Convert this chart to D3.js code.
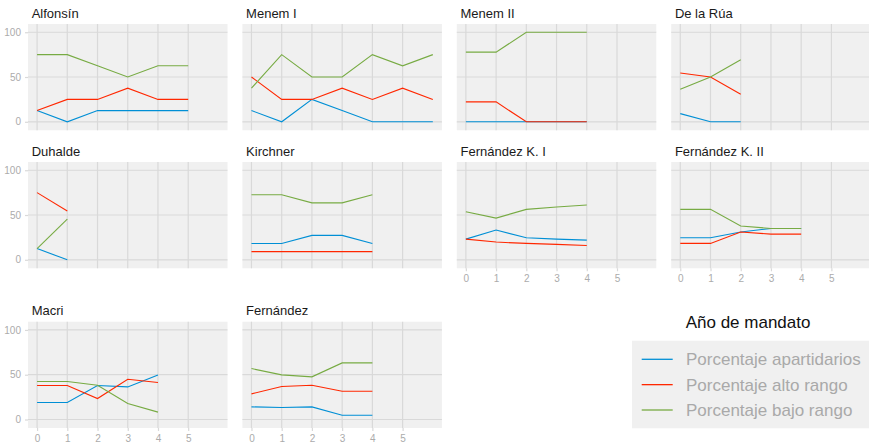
<!DOCTYPE html>
<html><head><meta charset="utf-8">
<script src="https://cdn.jsdelivr.net/npm/d3@7"></script>
<style>
html,body{margin:0;padding:0;background:#fff;}
svg{display:block;font-family:"Liberation Sans",Arial,Helvetica,sans-serif;}
</style></head>
<body>
<svg id="chart" width="869" height="444"></svg>
<script>
const presidents = ["Alfonsín","Menem I","Menem II","De la Rúa","Duhalde","Kirchner","Fernández K. I","Fernández K. II","Macri","Fernández"];
const seriesNames = ["Porcentaje apartidarios","Porcentaje alto rango","Porcentaje bajo rango"];
const seriesColors = ["#008fd5","#ff2700","#77ab43"];
const apartidarios = [
  [12.5,0,12.5,12.5,12.5,12.5],
  [12.5,0,25,12.5,0,0,0],
  [0,0,0,0,0],
  [9.1,0,0],
  [12.5,0],
  [18.2,18.2,27.3,27.3,18.2],
  [23.1,33.2,24.6,23.1,22],
  [24.6,24.6,31,35,35],
  [19,19,37.9,36.4,49.8],
  [14.1,13.4,14.1,4.8,4.8]
];
const altoRango = [
  [12.5,25,25,37.5,25,25],
  [50,25,25,37.5,25,37.5,25],
  [22.2,22.2,0,0,0],
  [54.5,50,30.8],
  [75,54.5],
  [9.1,9.1,9.1,9.1,9.1],
  [23.1,19.8,18.3,17.2,16],
  [18.3,18.3,31,28.7,28.7],
  [37.9,37.9,23.4,45,41.3],
  [28.6,36.8,38.3,31.6,31.6]
];
const bajoRango = [
  [75,75,62.5,50,62.5,62.5],
  [37.5,75,50,50,75,62.5,75],
  [77.8,77.8,100,100,100],
  [36.4,50,69.2],
  [12.5,45.5],
  [72.7,72.7,63.6,63.6,72.7],
  [53.7,46.6,56.3,59,61.2],
  [56.3,56.3,37.7,35,35],
  [42.4,42.4,38.3,17.8,8.2],
  [56.9,49.8,47.6,63.2,63.2]
];
const xTicks = [0,1,2,3,4,5];
const yTicks = [0,50,100];
const legendTitle = "Año de mandato";

const series = [apartidarios, altoRango, bajoRango];

const svg = d3.select("#chart");
const colLeft = [28, 242.4, 456.8, 671.2];
const rowTop = [24, 162, 321.7];
const pw = 199.5, ph = 106.3;
const gridColor = "#d9d9d9", panelBg = "#f0f0f0", tickText = "#ababab";

const x = d3.scaleLinear().domain([-0.3, 6.3]).range([0, pw]);
const y = d3.scaleLinear().domain([-9.5, 109.2]).range([ph, 0]);

const line = d3.line().x((d,i)=>x(i)).y(d=>y(d));

presidents.forEach((name, k) => {
  const r = Math.floor(k/4), c = k%4;
  const g = svg.append("g").attr("transform", `translate(${colLeft[c]},${rowTop[r]})`);
  g.append("rect").attr("width", pw).attr("height", ph).attr("fill", panelBg);
  // grid
  g.selectAll(".hg").data(yTicks).join("line")
    .attr("x1",0).attr("x2",pw).attr("y1",d=>y(d)).attr("y2",d=>y(d))
    .attr("stroke",gridColor).attr("stroke-width",1.2);
  g.selectAll(".vg").data(xTicks).join("line")
    .attr("y1",0).attr("y2",ph).attr("x1",d=>x(d)).attr("x2",d=>x(d))
    .attr("stroke",gridColor).attr("stroke-width",1.2);
  // title
  g.append("text").attr("x",3.7).attr("y",-6.3).attr("font-size",13).attr("fill","#1a1a1a").text(name);
  // series
  series.forEach((s, j) => {
    g.append("path").datum(s[k]).attr("d", line).attr("fill","none")
      .attr("stroke", seriesColors[j]).attr("stroke-width",1.1);
  });
  // y axis
  if (c === 0) {
    const ya = g.append("g").call(d3.axisLeft(y).tickValues(yTicks).tickSize(3).tickPadding(4));
    ya.select(".domain").remove();
    ya.selectAll(".tick line").attr("stroke", gridColor).attr("stroke-width",1.2);
    ya.selectAll(".tick text").attr("fill", tickText).attr("font-size",10).attr("font-family","Liberation Sans, Arial, sans-serif");
  }
  // x axis
  const showX = (r === 2) || (r === 1 && c >= 2);
  if (showX) {
    const xa = g.append("g").attr("transform",`translate(0,${ph})`)
      .call(d3.axisBottom(x).tickValues(xTicks).tickFormat(d3.format("d")).tickSize(3).tickPadding(4));
    xa.select(".domain").remove();
    xa.selectAll(".tick line").attr("stroke", gridColor).attr("stroke-width",1.2);
    xa.selectAll(".tick text").attr("fill", tickText).attr("font-size",10).attr("font-family","Liberation Sans, Arial, sans-serif");
  }
});

// legend
const lg = svg.append("g");
lg.append("text").attr("x",685.7).attr("y",328.3).attr("font-size",17).attr("fill","#111").text(legendTitle);
lg.append("rect").attr("x",632).attr("y",340.7).attr("width",240).attr("height",87.6).attr("fill",panelBg);
const ly = d3.scalePoint().domain(seriesNames).range([359.3, 410]);
seriesNames.forEach((n, j) => {
  lg.append("line").attr("x1",641.7).attr("x2",672.7).attr("y1",ly(n)).attr("y2",ly(n))
    .attr("stroke",seriesColors[j]).attr("stroke-width",1.3);
  lg.append("text").attr("x",686).attr("y",ly(n)).attr("dy","0.36em").attr("font-size",17)
    .attr("fill","#a9a9a9").text(n);
});
</script>
</body></html>
